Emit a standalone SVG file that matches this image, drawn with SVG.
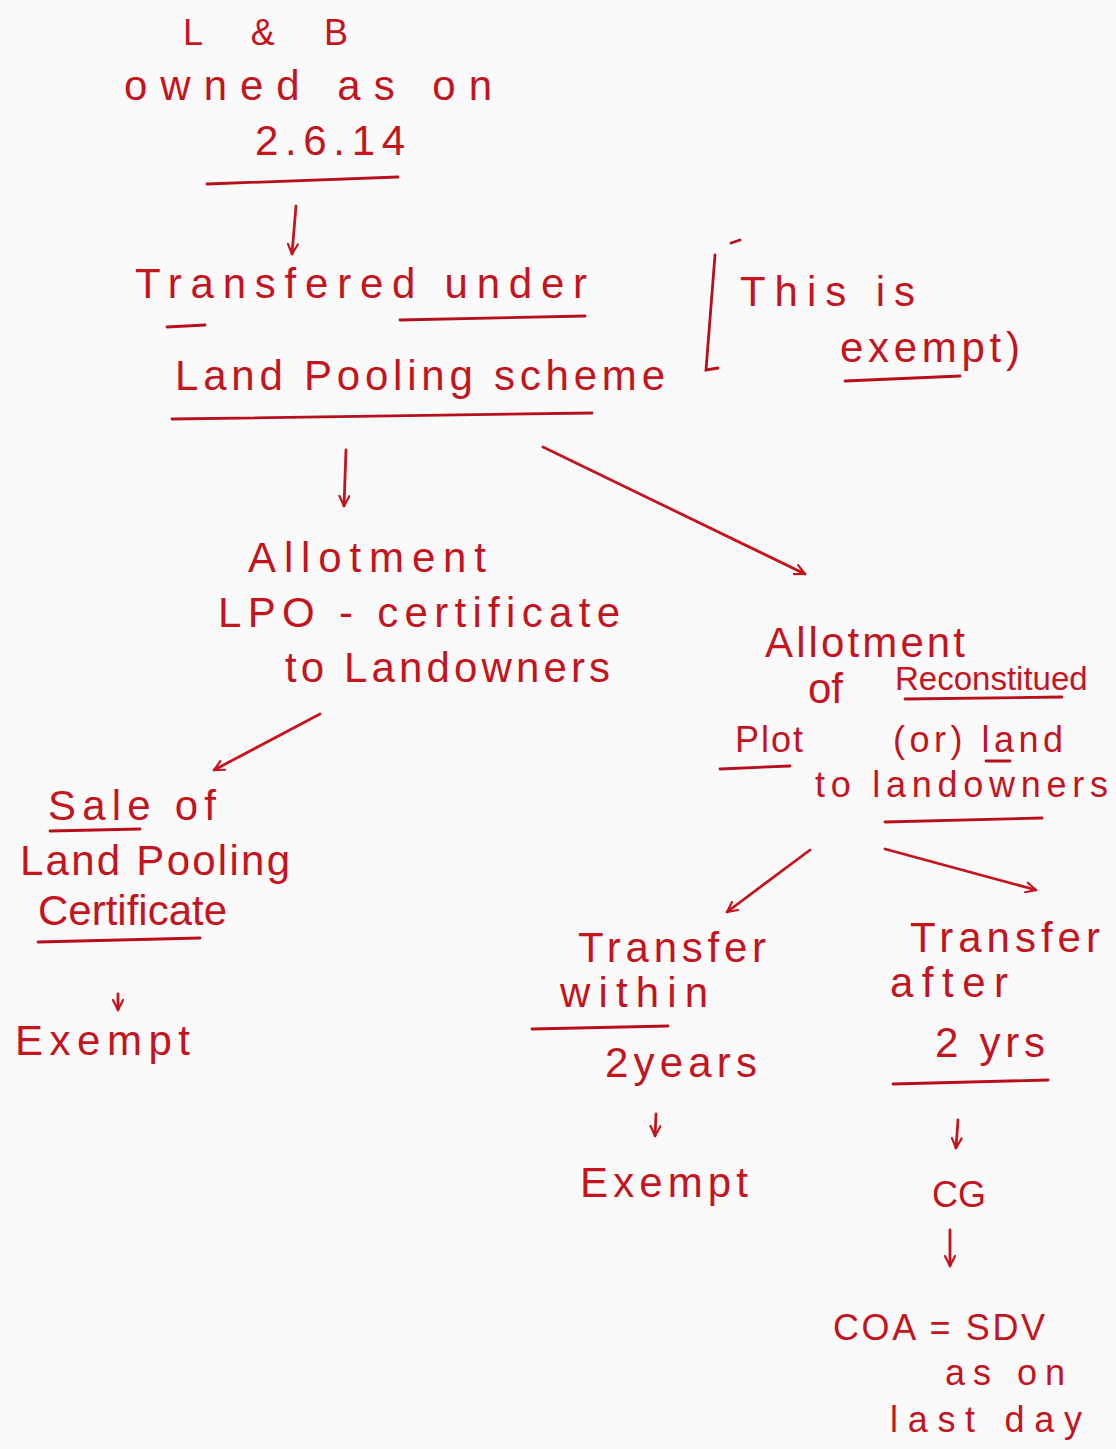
<svg xmlns="http://www.w3.org/2000/svg" width="1116" height="1449" viewBox="0 0 1116 1449">
<defs>
<style>
text{font-family:"Liberation Sans","Noto Sans",Arial,sans-serif;fill:#c4141e;font-size:42px}
.s{font-size:36px}
.xs{font-size:33px}
.ln{stroke:#b8101a;stroke-width:2.8;fill:none;stroke-linecap:round}
.ar{stroke:#c4141e;stroke-width:2.8;fill:none;stroke-linecap:round;marker-end:url(#ah)}
</style>
<marker id="ah" viewBox="0 0 12 12" refX="11" refY="6" markerWidth="12" markerHeight="12" markerUnits="userSpaceOnUse" orient="auto">
<polyline points="1,1 11,6 1,11" fill="none" stroke="#c4141e" stroke-width="2.2" stroke-linecap="round"/>
</marker>
</defs>
<rect width="1116" height="1449" fill="#fbfafa"/>

<g id="n-lb">
<text x="183" y="45" class="s" textLength="165" lengthAdjust="spacing">L &amp; B</text>
<text x="124" y="100" textLength="368" lengthAdjust="spacing">owned  as on</text>
<text x="255" y="155" textLength="150" lengthAdjust="spacing">2.6.14</text>
<path class="ln" d="M207,184 L398,177"/>
</g>

<g id="n-transfer">
<text x="135" y="298" textLength="452" lengthAdjust="spacing">Transfered  under</text>
<text x="175" y="390" textLength="490" lengthAdjust="spacing">Land  Pooling  scheme</text>
<path class="ln" d="M167,327 L205,325"/>
<path class="ln" d="M400,320 L585,316"/>
<path class="ln" d="M172,419 L592,413"/>
</g>

<g id="n-exempt-note">
<path class="ln" d="M740,240 L731,243 M715,255 L706,370 L718,368"/>
<text x="740" y="306" textLength="175" lengthAdjust="spacing">This is</text>
<text x="840" y="362" textLength="180" lengthAdjust="spacing">exempt)</text>
<path class="ln" d="M845,381 L960,376"/>
</g>

<g id="n-lpo">
<text x="248" y="572" textLength="238" lengthAdjust="spacing">Allotment</text>
<text x="218" y="627" textLength="402" lengthAdjust="spacing">LPO -  certificate</text>
<text x="285" y="682" textLength="325" lengthAdjust="spacing">to  Landowners</text>
</g>

<g id="n-sale">
<text x="48" y="820" textLength="168" lengthAdjust="spacing">Sale  of</text>
<text x="20" y="875" textLength="270" lengthAdjust="spacing">Land Pooling</text>
<text x="38" y="925" font-size="38">Certificate</text>
<path class="ln" d="M50,831 L140,829"/>
<path class="ln" d="M38,942 L200,938"/>
<text x="15" y="1055" textLength="175" lengthAdjust="spacing">Exempt</text>
</g>

<g id="n-plot">
<text x="765" y="657" textLength="200" lengthAdjust="spacing">Allotment</text>
<text x="808" y="703">of</text>
<text x="895" y="690" class="xs">Reconstitued</text>
<path class="ln" d="M905,699 L1062,697"/>
<text x="735" y="752" class="s" textLength="68" lengthAdjust="spacing">Plot</text>
<path class="ln" d="M720,769 L790,766"/>
<text x="893" y="752" class="s" textLength="170" lengthAdjust="spacing">(or)  land</text>
<path class="ln" d="M986,761 L1010,761"/>
<text x="815" y="797" class="s" textLength="293" lengthAdjust="spacing">to   landowners</text>
<path class="ln" d="M885,822 L1042,818"/>
</g>

<g id="n-within">
<text x="578" y="962" textLength="188" lengthAdjust="spacing">Transfer</text>
<text x="560" y="1007" textLength="148" lengthAdjust="spacing">within</text>
<path class="ln" d="M532,1029 L668,1026"/>
<text x="605" y="1077" textLength="152" lengthAdjust="spacing">2years</text>
<text x="580" y="1197" textLength="168" lengthAdjust="spacing">Exempt</text>
</g>

<g id="n-after">
<text x="910" y="952" textLength="190" lengthAdjust="spacing">Transfer</text>
<text x="890" y="997" textLength="118" lengthAdjust="spacing">after</text>
<text x="935" y="1057" textLength="110" lengthAdjust="spacing">2 yrs</text>
<path class="ln" d="M893,1084 L1048,1080"/>
<text x="932" y="1207" class="s">CG</text>
</g>

<g id="n-coa">
<text x="833" y="1340" class="s" textLength="212" lengthAdjust="spacing">COA =  SDV</text>
<text x="945" y="1385" class="s" textLength="120" lengthAdjust="spacing">as on</text>
<text x="890" y="1432" class="s" textLength="192" lengthAdjust="spacing">last   day</text>
</g>

<g id="connectors">
<path class="ar" d="M296,206 L292,254"/>
<path class="ar" d="M346,450 L344,506"/>
<path class="ar" d="M543,447 L805,574"/>
<path class="ar" d="M320,714 L214,770"/>
<path class="ar" d="M118,994 L118,1010"/>
<path class="ar" d="M810,850 L727,912"/>
<path class="ar" d="M885,849 L1036,890"/>
<path class="ar" d="M656,1114 L655,1136"/>
<path class="ar" d="M958,1120 L956,1148"/>
<path class="ar" d="M950,1230 L950,1266"/>
</g>
</svg>
